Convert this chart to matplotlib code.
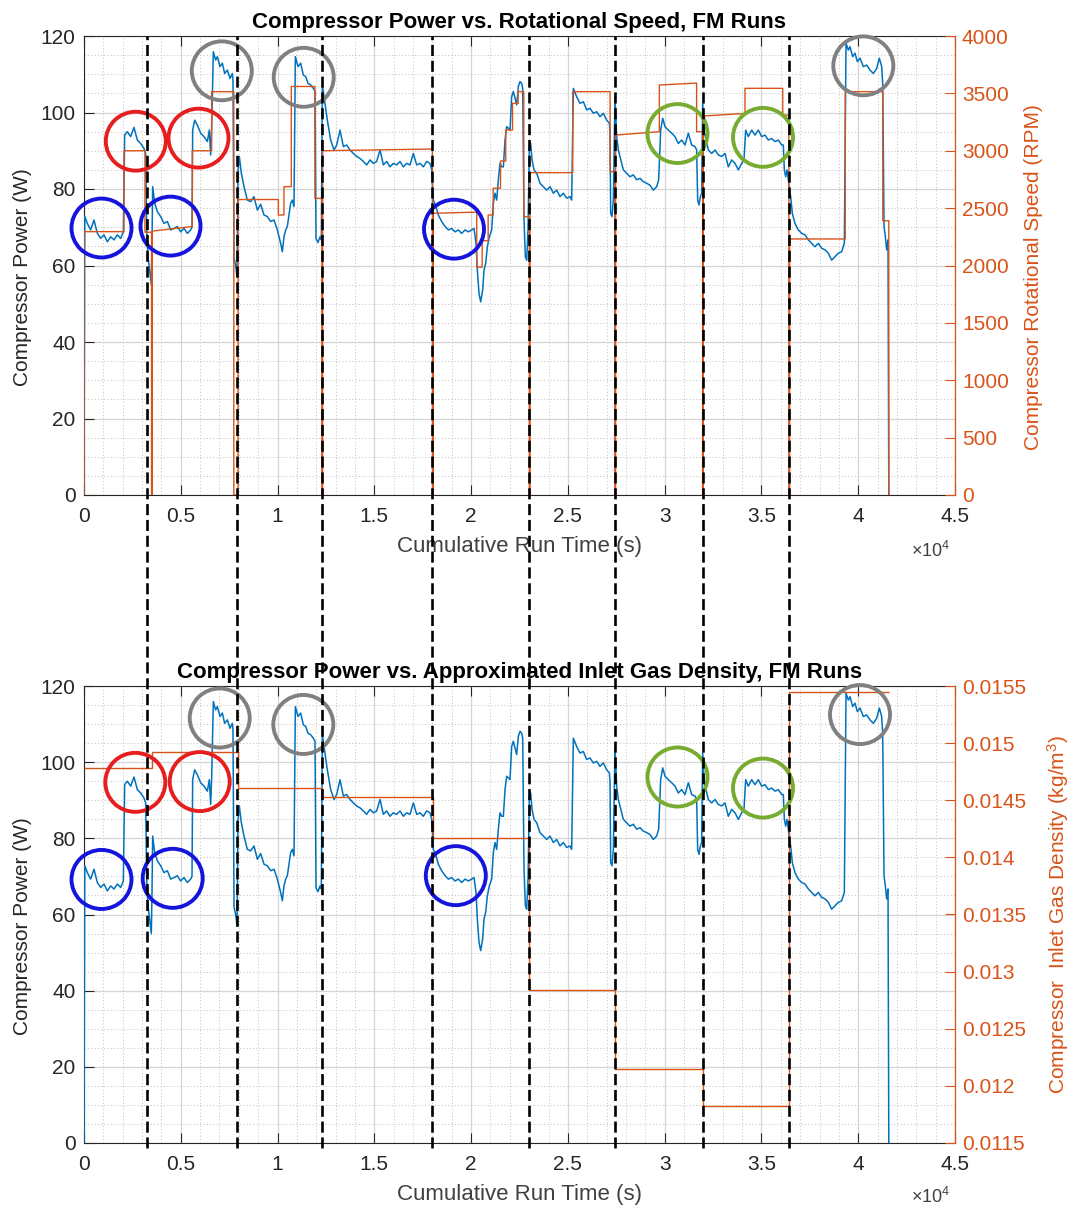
import numpy as np
import matplotlib
matplotlib.use("Agg")
import matplotlib.pyplot as plt
import matplotlib.transforms as mtransforms
from matplotlib.patches import Ellipse
from matplotlib.lines import Line2D
from matplotlib.ticker import MultipleLocator, FuncFormatter

plt.rcParams['font.family'] = ['Liberation Sans', 'DejaVu Sans']
plt.rcParams['mathtext.fontset'] = 'custom'
plt.rcParams['mathtext.rm'] = 'Liberation Sans'
plt.rcParams['mathtext.it'] = 'Liberation Sans:italic'
plt.rcParams['mathtext.bf'] = 'Liberation Sans:bold'

# ---------------------------------------------------------------------------
# Compressor power (W) versus cumulative run time (s), one list per FM run
# ---------------------------------------------------------------------------
run1_power = [(0, 0.0), (40, 72.8), (172, 71.0), (344, 69.3), (517, 71.9), (689, 68.4),
              (861, 67.1), (1033, 68.0), (1206, 66.2), (1378, 67.5), (1550, 66.7),
              (1722, 68.0), (1894, 67.1), (2032, 68.8), (2101, 94.1), (2239, 95.0),
              (2411, 93.7), (2583, 96.1), (2756, 92.8), (2928, 91.9), (3100, 90.6),
              (3186, 89.3), (3238, 69.3)]
run2_power = [(3307, 62.3), (3410, 58.0), (3479, 55.0), (3513, 65.8), (3548, 80.6),
              (3651, 76.3), (3789, 74.1), (3961, 72.8), (4133, 71.0), (4306, 71.5),
              (4478, 69.3), (4650, 69.7), (4822, 70.2), (4994, 68.8), (5167, 69.7),
              (5339, 68.4), (5511, 69.3), (5580, 70.0), (5614, 95.4), (5718, 98.0),
              (5855, 96.7), (6028, 94.6), (6200, 93.7), (6372, 92.4), (6475, 95.4),
              (6544, 88.9), (6596, 96.0), (6682, 115.9), (6803, 113.7), (6889, 114.6),
              (7026, 112.0), (7147, 112.9), (7268, 110.2), (7406, 111.1), (7544, 108.9),
              (7664, 110.2), (7698, 108.5), (7750, 62.0), (7836, 60.0), (7905, 57.0)]
run3_power = [(7956, 85.0), (8025, 88.5), (8129, 84.1), (8267, 80.6), (8439, 77.1),
              (8611, 76.7), (8783, 78.0), (8956, 74.5), (9128, 76.0), (9300, 73.2),
              (9472, 72.8), (9644, 71.5), (9817, 71.9), (9989, 69.3), (10161, 65.8),
              (10247, 63.6), (10333, 67.5), (10419, 69.3), (10506, 70.2), (10592, 73.2),
              (10678, 76.3), (10764, 77.1), (10850, 75.4), (10919, 114.6), (11057, 112.0),
              (11194, 112.9), (11332, 109.8), (11453, 109.4), (11573, 107.6), (11711, 107.2),
              (11849, 106.3), (11935, 105.5), (11987, 67.0), (12090, 66.0), (12193, 67.5),
              (12262, 66.7)]
run4_power = [(12314, 107.2), (12400, 104.1), (12572, 98.0), (12744, 92.8), (12917, 90.2),
              (13054, 91.5), (13227, 95.4), (13399, 91.1), (13571, 91.5), (13743, 90.2),
              (13916, 89.3), (14088, 88.5), (14260, 88.0), (14432, 87.2), (14604, 86.3),
              (14777, 87.6), (14949, 86.7), (15121, 87.2), (15293, 90.2), (15466, 86.3),
              (15638, 87.2), (15810, 85.8), (15982, 86.7), (16154, 86.3), (16327, 87.2),
              (16499, 85.8), (16671, 86.7), (16843, 86.3), (17016, 89.3), (17188, 86.3),
              (17360, 86.7), (17532, 85.8), (17704, 87.2), (17877, 86.7), (17963, 85.0)]
run5_power = [(18049, 77.1), (18187, 75.4), (18307, 73.2), (18479, 71.5), (18652, 70.2),
              (18824, 69.3), (18996, 69.7), (19168, 68.8), (19340, 69.3), (19513, 68.4),
              (19685, 69.3), (19857, 68.8), (20029, 69.3), (20150, 69.7), (20253, 65.8),
              (20322, 58.8), (20408, 52.7), (20495, 50.5), (20598, 53.6), (20667, 58.8),
              (20753, 60.6), (20839, 64.9), (20942, 67.5), (21063, 69.3), (21149, 76.3),
              (21235, 78.9), (21321, 77.1), (21407, 82.4), (21493, 86.7), (21580, 85.8),
              (21666, 85.8), (21752, 92.8), (21838, 96.3), (21924, 95.9), (22010, 95.4),
              (22096, 104.1), (22182, 105.5), (22268, 103.7), (22354, 102.0), (22441, 106.8),
              (22527, 108.1), (22613, 107.6), (22665, 106.3), (22733, 71.9), (22802, 62.3),
              (22871, 61.4), (22940, 69.3)]
run6_power = [(23009, 91.1), (23078, 91.9), (23147, 87.6), (23250, 85.0), (23388, 84.1),
              (23560, 81.5), (23732, 80.6), (23904, 79.7), (24077, 80.6), (24249, 78.9),
              (24421, 79.7), (24593, 78.0), (24765, 78.9), (24938, 77.6), (25110, 78.0),
              (25196, 77.1), (25282, 106.3), (25454, 104.1), (25626, 102.4), (25799, 102.8),
              (25971, 100.7), (26143, 101.1), (26315, 99.8), (26488, 100.2), (26660, 98.9),
              (26832, 99.8), (27004, 98.0), (27142, 97.2), (27176, 95.0), (27210, 73.6),
              (27279, 72.8), (27348, 77.1)]
run7_power = [(27434, 104.1), (27520, 93.7), (27606, 90.2), (27692, 88.5), (27778, 86.7),
              (27865, 85.0), (28037, 84.1), (28209, 83.2), (28381, 83.7), (28553, 82.4),
              (28726, 82.8), (28898, 81.9), (29070, 81.5), (29242, 81.0), (29415, 79.7),
              (29587, 80.6), (29690, 82.4), (29793, 95.4), (29897, 98.5), (30017, 96.3),
              (30189, 95.4), (30362, 94.6), (30534, 93.7), (30706, 91.9), (30878, 92.8),
              (31050, 91.5), (31223, 94.6), (31395, 91.5), (31567, 91.1), (31653, 90.2),
              (31705, 77.1), (31774, 75.8), (31843, 78.0), (31912, 78.9)]
run8_power = [(31963, 102.4), (32032, 95.4), (32136, 92.8), (32256, 90.2), (32428, 89.3),
              (32601, 90.2), (32773, 88.9), (32945, 88.5), (33117, 89.3), (33289, 85.8),
              (33462, 87.6), (33634, 86.7), (33806, 85.0), (33978, 86.7), (34099, 87.6),
              (34185, 95.4), (34323, 93.7), (34495, 95.4), (34667, 94.1), (34840, 95.4),
              (35012, 93.7), (35184, 94.1), (35356, 92.8), (35528, 93.2), (35701, 92.4),
              (35873, 92.8), (36045, 91.5), (36131, 91.5), (36183, 85.0), (36252, 83.2),
              (36321, 85.0), (36390, 82.4)]
run9_power = [(36441, 80.0), (36510, 78.0), (36596, 73.6), (36734, 71.0), (36906, 69.3),
              (37078, 68.4), (37251, 68.0), (37423, 66.7), (37595, 65.8), (37767, 64.9),
              (37939, 65.8), (38112, 64.5), (38284, 64.1), (38456, 63.2), (38628, 61.4),
              (38801, 62.3), (38973, 63.2), (39145, 63.6), (39283, 65.8), (39369, 118.1),
              (39489, 116.3), (39576, 117.2), (39713, 114.6), (39834, 115.5), (39955, 113.3),
              (40092, 114.2), (40265, 112.0), (40437, 112.4), (40609, 111.1), (40781, 110.2),
              (40953, 111.5), (41091, 114.2), (41212, 112.0), (41264, 107.6), (41333, 70.2),
              (41402, 67.5), (41470, 64.1), (41539, 66.7), (41580, 0.0)]

# ---------------------------------------------------------------------------
# Compressor rotational speed set points (RPM), one list per FM run
# ---------------------------------------------------------------------------
run1_rpm = [(0, 0), (0, 2295), (2066, 2295), (2066, 3000), (3150, 3000), (3150, 2290),
            (3490, 2290), (3490, 0)]
run2_rpm = [(3530, 0), (3530, 2300), (5597, 2340), (5597, 3000), (6595, 3000),
            (6595, 3515), (7740, 3515), (7740, 0)]
run3_rpm = [(7960, 0), (7960, 2575), (10040, 2575), (10040, 2440), (10330, 2440),
            (10330, 2687), (10710, 2687), (10710, 3560), (11930, 3560), (11930, 2585),
            (12290, 2585), (12290, 0)]
run4_rpm = [(12330, 0), (12330, 3000), (18000, 3015), (18000, 0)]
run5_rpm = [(18040, 0), (18040, 2455), (20290, 2465), (20290, 1985), (20570, 1985),
            (20570, 2216), (20880, 2216), (20880, 2440), (21140, 2440), (21140, 2673),
            (21520, 2673), (21520, 2911), (21790, 2911), (21790, 3181), (22140, 3181),
            (22140, 3413), (22430, 3413), (22430, 3515), (22720, 3515), (22720, 2425),
            (23005, 2425), (23005, 0)]
run6_rpm = [(23045, 0), (23045, 2809), (25250, 2809), (25250, 3515), (27180, 3515),
            (27180, 2818), (27430, 2818), (27430, 0)]
run7_rpm = [(27465, 0), (27465, 3137), (29725, 3166), (29725, 3573), (31650, 3590),
            (31650, 3166), (31960, 3166), (31960, 0)]
run8_rpm = [(31995, 0), (31995, 3303), (34150, 3325), (34150, 3544), (36100, 3544),
            (36100, 3310), (36420, 3310), (36420, 0)]
run9_rpm = [(36455, 0), (36455, 2231), (39330, 2231), (39330, 3515), (41270, 3515),
            (41270, 2390), (41580, 2390), (41580, 0)]

# ---------------------------------------------------------------------------
# Approximated inlet gas density (kg/m^3), constant over each run
# ---------------------------------------------------------------------------
density_edges = [0, 3510, 7950, 12300, 18010, 23000, 27430, 31960, 36420, 41570]
density_values = [0.01478, 0.014925, 0.014605, 0.014531, 0.01417,
                  0.01284, 0.012145, 0.011827, 0.01545]

# Boundaries between FM runs (s)
run_boundaries = [3270, 7920, 12300, 18000, 23010, 27430, 31960, 36420]

# Highlighted operating points: (time s, power W, colour)
top_marks = [(904, 69.8, 'blue'), (4469, 70.3, 'blue'), (19116, 69.5, 'blue'),
             (2676, 92.5, 'red'), (5916, 93.3, 'red'),
             (7119, 110.9, 'grey'), (11351, 109.2, 'grey'), (40263, 112.2, 'grey'),
             (30663, 94.5, 'green'), (35080, 93.5, 'green')]
bottom_marks = [(904, 69.2, 'blue'), (4583, 69.5, 'blue'), (19209, 70.2, 'blue'),
                (2650, 94.7, 'red'), (5978, 94.9, 'red'),
                (7011, 111.6, 'grey'), (11330, 109.9, 'grey'), (40092, 112.5, 'grey'),
                (30663, 96.1, 'green'), (35080, 93.2, 'green')]

# ---------------------------------------------------------------------------
BLUE = '#0072BD'
ORANGE = '#D95319'
TXT = '#262626'
MARK_COLORS = {'blue': '#1414DC', 'red': '#E61E1E', 'grey': '#808080', 'green': '#77AC30'}

power_runs = [run1_power, run2_power, run3_power, run4_power, run5_power,
              run6_power, run7_power, run8_power, run9_power]
rpm_runs = [run1_rpm, run2_rpm, run3_rpm, run4_rpm, run5_rpm,
            run6_rpm, run7_rpm, run8_rpm, run9_rpm]
power = np.array([p for run in power_runs for p in run], dtype=float)
rpm = np.array([p for run in rpm_runs for p in run], dtype=float)

W, H = 1074, 1211
fig = plt.figure(figsize=(W / 100, H / 100), dpi=100)


def px_rect(left, top, right, bottom):
    return [left / W, 1 - bottom / H, (right - left) / W, (bottom - top) / H]


ax_top = fig.add_axes(px_rect(84, 36, 955, 495))
ax_bot = fig.add_axes(px_rect(84, 686, 955, 1143))


def style_left(ax):
    ax.set_xlim(0, 45000)
    ax.set_ylim(0, 120)
    ax.xaxis.set_major_locator(MultipleLocator(5000))
    ax.xaxis.set_minor_locator(MultipleLocator(1000))
    ax.yaxis.set_major_locator(MultipleLocator(20))
    ax.yaxis.set_minor_locator(MultipleLocator(5))
    ax.xaxis.set_major_formatter(FuncFormatter(lambda v, p: f"{v / 1e4:g}"))
    ax.grid(which='major', color='#D5D5D5', lw=0.9, ls='-')
    ax.grid(which='minor', color='#C8C8C8', lw=0.7, ls=(0, (1.2, 2.2)))
    ax.set_axisbelow(True)
    ax.tick_params(which='major', direction='in', length=7, width=0.8, top=True,
                   right=False, labelsize=15, colors=TXT)
    ax.tick_params(axis='x', which='major', pad=9)
    ax.tick_params(axis='y', which='major', pad=6)
    ax.tick_params(which='minor', length=0, top=True, right=False)
    for s in ['left', 'top', 'bottom']:
        ax.spines[s].set_color(TXT)
        ax.spines[s].set_linewidth(0.8)
    ax.spines['right'].set_visible(False)
    ax.set_xlabel('Cumulative Run Time (s)', fontsize=16, color='#404040', labelpad=7)
    ax.set_ylabel('Compressor Power (W)', fontsize=15, color=TXT)
    ax.yaxis.set_label_coords(-0.060, 0.475)
    ax.plot(power[:, 0], power[:, 1], color=BLUE, lw=1.1, zorder=3)


def style_right(ax2):
    for s in ['left', 'top', 'bottom']:
        ax2.spines[s].set_visible(False)
    ax2.spines['right'].set_color(ORANGE)
    ax2.spines['right'].set_linewidth(0.9)
    ax2.tick_params(axis='y', which='major', direction='in', length=7, width=0.8,
                    colors=ORANGE, labelsize=15, pad=5)
    ax2.tick_params(axis='y', which='minor', length=0)


def add_marks(ax_src, ax_dst, marks, height):
    for t, w, c in marks:
        e = Ellipse((t, w), width=3100, height=height, transform=ax_src.transData,
                    fill=False, ec=MARK_COLORS[c], lw=2.8, clip_on=False, zorder=6)
        ax_dst.add_patch(e)


# --- top: power vs rotational speed ----------------------------------------
style_left(ax_top)
ax_top2 = ax_top.twinx()
style_right(ax_top2)
ax_top2.plot(rpm[:, 0], rpm[:, 1], color=ORANGE, lw=1.0, zorder=2)
ax_top2.set_ylim(0, 4000)
ax_top2.yaxis.set_major_locator(MultipleLocator(500))
ax_top2.set_ylabel('Compressor Rotational Speed (RPM)', fontsize=15, color=ORANGE)
ax_top2.yaxis.set_label_coords(1.079, 0.475)
ax_top.set_title('Compressor Power vs. Rotational Speed, FM Runs', fontsize=16,
                 fontweight='bold', color='black', pad=6)
add_marks(ax_top, ax_top2, top_marks, 15.4)

# --- bottom: power vs inlet gas density ------------------------------------
style_left(ax_bot)
ax_bot2 = ax_bot.twinx()
style_right(ax_bot2)
ax_bot2.stairs(density_values, density_edges, baseline=None, color=ORANGE, lw=1.0, zorder=2)
ax_bot2.set_ylim(0.0115, 0.0155)
ax_bot2.set_yticks(np.round(np.arange(0.0115, 0.01551, 0.0005), 5))
ax_bot2.yaxis.set_major_formatter(FuncFormatter(lambda v, p: f"{v:g}"))
ax_bot2.set_ylabel('Compressor  Inlet Gas Density (kg/m$^3$)', fontsize=15,
                   color=ORANGE)
ax_bot2.yaxis.set_label_coords(1.104, 0.5)
ax_bot.set_title('Compressor Power vs. Approximated Inlet Gas Density, FM Runs',
                 fontsize=16, fontweight='bold', color='black', pad=6)
add_marks(ax_bot, ax_bot2, bottom_marks, 15.5)

# x-axis multiplier labels
for ypx in [551, 1197]:
    fig.text(950 / W, 1 - ypx / H, '\u00d710$^{4}$', ha='right', va='center',
             fontsize=13, color='#404040')

# run boundaries spanning both panels
blend = mtransforms.blended_transform_factory(ax_top.transData, fig.transFigure)
for tb in run_boundaries:
    fig.add_artist(Line2D([tb, tb], [1 - 1148 / H, 1 - 36 / H], transform=blend,
                          color='black', lw=1.9, dashes=(4.2, 1.8), zorder=10))

fig.savefig('out.png', dpi=100)
